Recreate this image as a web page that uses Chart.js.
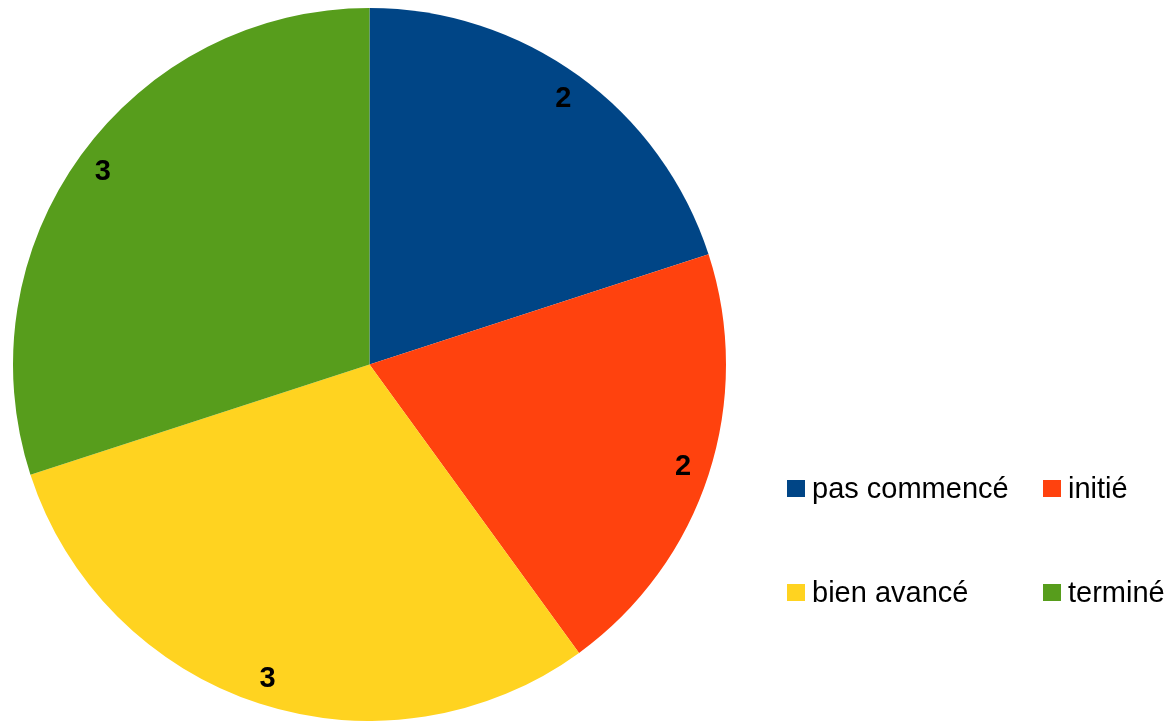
<!DOCTYPE html>
<html>
<head>
<meta charset="utf-8">
<script src="https://cdn.jsdelivr.net/npm/chart.js@4/dist/chart.umd.min.js"></script>
<style>
  html, body { margin: 0; padding: 0; background: #fff; }
  #wrap { width: 1171px; height: 721px; position: relative; }
</style>
</head>
<body>
<div id="wrap"><canvas id="myChart"></canvas></div>
<script>
const etiquetas = ["pas commencé", "initié", "bien avancé", "terminé"];
const valores = [2, 2, 3, 3];
const colores = ["#004586", "#ff420e", "#ffd320", "#579d1c"];

// numeros sobre cada porcion
const etiquetasValor = {
  id: "etiquetasValor",
  afterDatasetsDraw(chart) {
    const ctx = chart.ctx;
    const meta = chart.getDatasetMeta(0);
    ctx.save();
    ctx.font = "bold 29px 'Liberation Sans', Arial, sans-serif";
    ctx.fillStyle = "#000";
    ctx.textAlign = "center";
    ctx.textBaseline = "middle";
    meta.data.forEach((arc, i) => {
      const p = arc.getProps(["x", "y", "startAngle", "endAngle", "outerRadius"], true);
      const ang = (p.startAngle + p.endAngle) / 2;
      const r = p.outerRadius * 0.925;
      ctx.fillText(String(valores[i]), p.x + Math.cos(ang) * r, p.y + Math.sin(ang) * r + 1);
    });
    ctx.restore();
  }
};

// leyenda 2x2 a la derecha
const leyenda = {
  id: "leyenda",
  afterDraw(chart) {
    const ctx = chart.ctx;
    const cols = [787, 1043];
    const filas = [480, 584];
    ctx.save();
    ctx.font = "29px 'Liberation Sans', Arial, sans-serif";
    ctx.textBaseline = "alphabetic";
    ctx.textAlign = "left";
    etiquetas.forEach((txt, i) => {
      const x = cols[i % 2];
      const y = filas[Math.floor(i / 2)];
      ctx.fillStyle = colores[i];
      ctx.fillRect(x, y, 18, 17);
      ctx.fillStyle = "#000";
      ctx.fillText(txt, x + 25, y + 17.5);
    });
    ctx.restore();
  }
};

const config = {
  type: "pie",
  data: {
    labels: etiquetas,
    datasets: [
      {
        data: valores,
        backgroundColor: colores,
        borderWidth: 0,
      },
    ],
  },
  options: {
    responsive: true,
    maintainAspectRatio: false,
    animation: false,
    layout: { padding: { left: 13, top: 8, right: 445, bottom: 0 } },
    plugins: {
      legend: { display: false },
      tooltip: { enabled: false },
    },
  },
  plugins: [etiquetasValor, leyenda],
};

const myChart = document.getElementById("myChart");
new Chart(myChart, config);
</script>
</body>
</html>
